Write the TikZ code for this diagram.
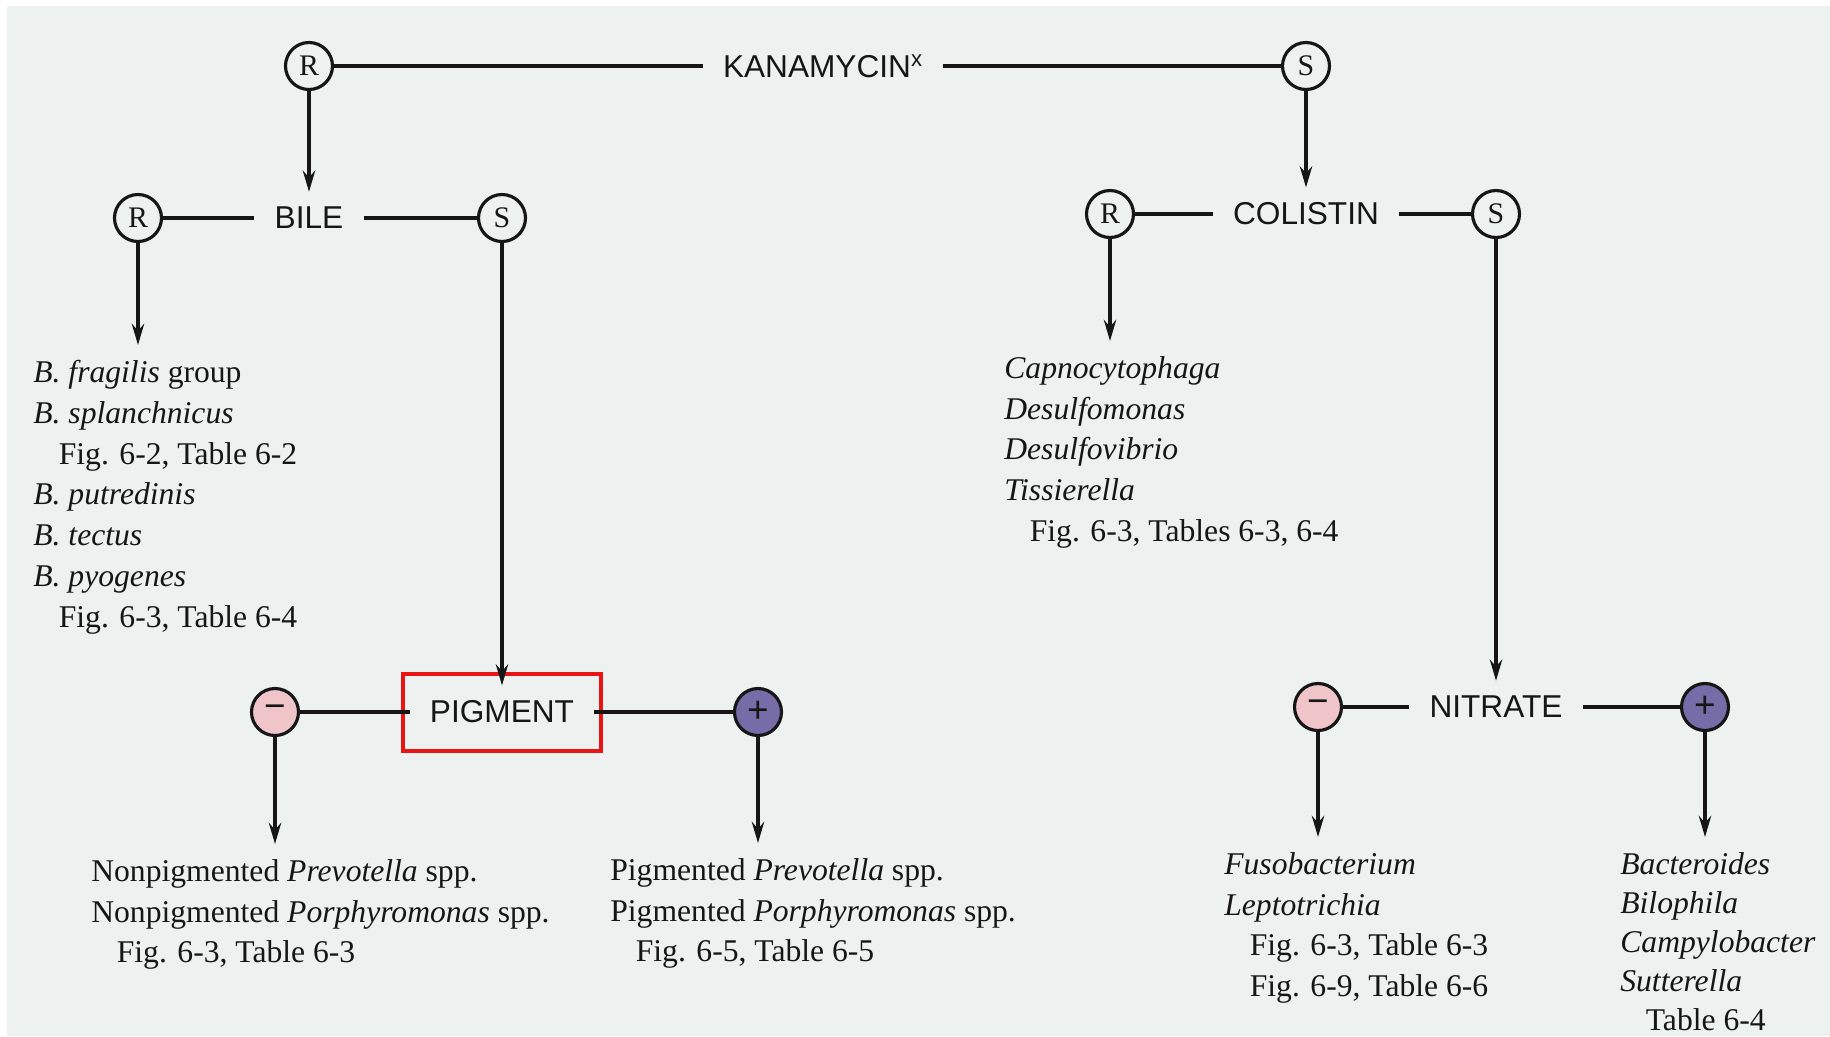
\documentclass[tikz,border=0pt]{standalone}
\usepackage{fontspec}
\setmainfont{Liberation Serif}
\setsansfont{Liberation Sans}
\usepackage{xcolor}
\usepackage{tikz}
\usetikzlibrary{arrows.meta}
\definecolor{paperbg}{RGB}{237,242,241}
\definecolor{inkblack}{RGB}{22,22,22}
\definecolor{negpink}{RGB}{240,197,202}
\definecolor{pospurple}{RGB}{118,108,168}
\definecolor{markred}{RGB}{235,20,20}
\newcommand{\ind}{\hspace*{14.5pt}}

\begin{document}
\begin{tikzpicture}[x=0.02cm, y=-0.02cm,
    test/.style={font=\sffamily\fontsize{18}{22}\selectfont, text=inkblack, inner xsep=0.4cm, inner ysep=0.3cm},
    res/.style={circle, draw=inkblack, line width=1.8pt, fill=paperbg, minimum size=0.94cm, inner sep=0pt, text=inkblack, font=\fontsize{17}{20}\selectfont},
    negres/.style={res, fill=negpink, font=\sffamily\fontsize{21}{20}\selectfont},
    posres/.style={res, fill=pospurple, font=\sffamily\fontsize{21}{20}\selectfont},
    list/.style={anchor=north west, align=left, inner xsep=0pt, inner ysep=0.3cm, text=inkblack, font=\fontsize{18}{23.2}\selectfont},
    link/.style={line width=2pt, draw=inkblack},
    arrow/.style={link, -{Stealth[length=12pt, width=7pt]}},
    redbox/.style={draw=markred, line width=0.08cm, minimum width=3.96cm, minimum height=1.54cm}
]
    \useasboundingbox (0,0) rectangle (1830,1036);
    \fill[white] (0,0) rectangle (1830,1036);
    \fill[paperbg] (7,6) rectangle (1830,1036);

    \node[res] (kanR) at (309,66) {R};
    \node[test] (kana) at (823,66) {KANAMYCIN\textsuperscript{x}};
    \node[res] (kanS) at (1306,66) {S};

    \node[res] (bileR) at (138,218) {R};
    \node[test] (bile) at (309,218) {BILE};
    \node[res] (bileS) at (502,218) {S};

    \node[res] (colR) at (1110,214) {R};
    \node[test] (coli) at (1306,214) {COLISTIN};
    \node[res] (colS) at (1496,214) {S};

    \node[negres] (pigM) at (275,712) {−};
    \node[test] (pig) at (502,712) {PIGMENT};
    \node[posres] (pigP) at (758,712) {+};
    \node[redbox] (pigbox) at (pig) {};

    \node[negres] (nitM) at (1318,707) {−};
    \node[test] (nit) at (1496,707) {NITRATE};
    \node[posres] (nitP) at (1705,707) {+};

    \node[list] (bileRlist) at (33,345) {\textit{B. fragilis} group\\\textit{B. splanchnicus}\\\ind Fig. 6-2, Table 6-2\\\textit{B. putredinis}\\\textit{B. tectus}\\\textit{B. pyogenes}\\\ind Fig. 6-3, Table 6-4};
    \node[list] (colRlist) at (1004,341) {\textit{Capnocytophaga}\\\textit{Desulfomonas}\\\textit{Desulfovibrio}\\\textit{Tissierella}\\\ind Fig. 6-3, Tables 6-3, 6-4};
    \node[list] (pigMlist) at (91,844) {Nonpigmented \textit{Prevotella} spp.\\Nonpigmented \textit{Porphyromonas} spp.\\\ind Fig. 6-3, Table 6-3};
    \node[list] (pigPlist) at (610,843) {Pigmented \textit{Prevotella} spp.\\Pigmented \textit{Porphyromonas} spp.\\\ind Fig. 6-5, Table 6-5};
    \node[list] (nitMlist) at (1224,837) {\textit{Fusobacterium}\\\textit{Leptotrichia}\\\ind Fig. 6-3, Table 6-3\\\ind Fig. 6-9, Table 6-6};
    \node[list, font=\fontsize{18}{22.2}\selectfont] (nitPlist) at (1620,837) {\textit{Bacteroides}\\\textit{Bilophila}\\\textit{Campylobacter}\\\textit{Sutterella}\\\ind Table 6-4};

    \draw[link] (kanR) -- (kana);
    \draw[link] (kana) -- (kanS);
    \draw[link] (bileR) -- (bile);
    \draw[link] (bile) -- (bileS);
    \draw[link] (colR) -- (coli);
    \draw[link] (coli) -- (colS);
    \draw[link] (pigM) -- (pig);
    \draw[link] (pig) -- (pigP);
    \draw[link] (nitM) -- (nit);
    \draw[link] (nit) -- (nitP);

    \draw[arrow] (kanR) -- (bile);
    \draw[arrow] (kanS) -- (coli);
    \draw[arrow] (bileS) -- (pig);
    \draw[arrow] (colS) -- (nit);
    \draw[arrow] (bileR) -- (bileR |- bileRlist.north);
    \draw[arrow] (colR) -- (colR |- colRlist.north);
    \draw[arrow] (pigM) -- (pigM |- pigMlist.north);
    \draw[arrow] (pigP) -- (pigP |- pigPlist.north);
    \draw[arrow] (nitM) -- (nitM |- nitMlist.north);
    \draw[arrow] (nitP) -- (nitP |- nitPlist.north);
\end{tikzpicture}
\end{document}
